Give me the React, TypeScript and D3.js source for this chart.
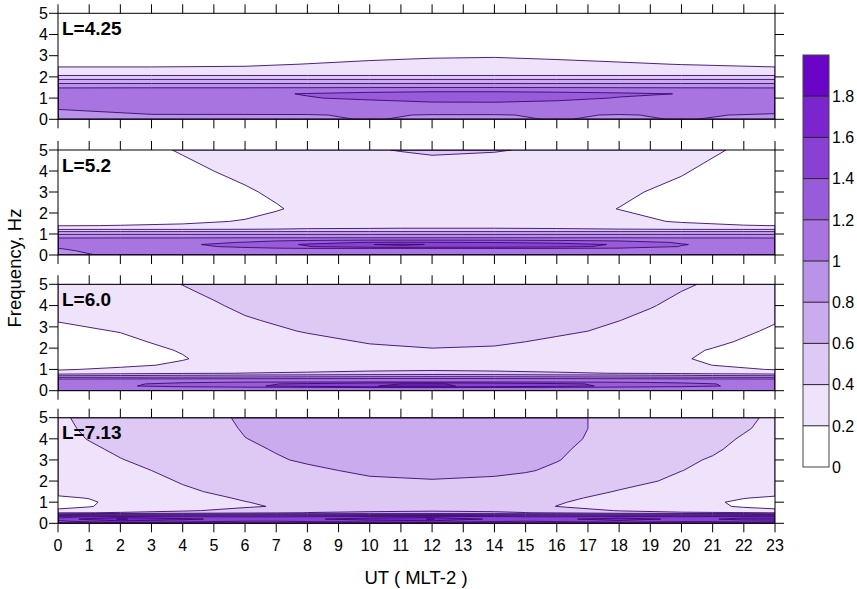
import React from "react";
import * as d3 from "d3";

// ---------- shared categories / levels ----------
const utTickLabels = ["0","1","2","3","4","5","6","7","8","9","10","11","12","13","14","15","16","17","18","19","20","21","22","23"];
const freqTickLabels = ["0","1","2","3","4","5"];
const levels = [0.2, 0.4, 0.6, 0.8, 1.0, 1.2, 1.4, 1.6, 1.8];
const colorbarStops = [0, 0.2, 0.4, 0.6, 0.8, 1.0, 1.2, 1.4, 1.6, 1.8, 2.0];
const colorbarLabels = ["0","0.2","0.4","0.6","0.8","1","1.2","1.4","1.6","1.8"];
const bandColors = ["#ffffff","#eee3fa","#ddc9f4","#caabed","#b993e7","#a875e0","#985bda","#8941d4","#7a25ce","#6a05c8"];
const panelLabels = ["L=4.25","L=5.2","L=6.0","L=7.13"];

// ---------- panel 1 : L=4.25 ----------
const ut1 = [0, 3, 6, 8, 10, 12, 14, 16, 18, 20, 23];
const freq1 = [0, 0.2, 0.4, 0.6, 0.8, 1.0, 1.2, 1.4, 1.6, 1.8, 2.0, 2.2, 2.6, 3.0, 4.0, 5.0];
const grid1 = [
  [0.90,0.95,0.96,0.97,1.01,0.97,0.97,1.01,0.97,1.01,0.95],
  [0.93,0.99,0.99,0.99,1.02,0.99,0.99,1.02,0.99,1.02,0.98],
  [0.98,1.05,1.06,1.07,1.08,1.09,1.09,1.08,1.07,1.06,1.04],
  [1.04,1.08,1.10,1.12,1.14,1.15,1.15,1.14,1.12,1.10,1.07],
  [1.07,1.10,1.13,1.15,1.16,1.195,1.198,1.17,1.15,1.13,1.09],
  [1.09,1.11,1.15,1.19,1.23,1.27,1.27,1.25,1.19,1.18,1.10],
  [1.10,1.12,1.16,1.21,1.25,1.28,1.28,1.26,1.23,1.195,1.11],
  [1.08,1.09,1.09,1.10,1.11,1.12,1.12,1.11,1.10,1.09,1.08],
  [0.88,0.88,0.88,0.88,0.88,0.88,0.88,0.88,0.88,0.88,0.88],
  [0.70,0.70,0.70,0.70,0.70,0.70,0.70,0.70,0.70,0.70,0.70],
  [0.45,0.45,0.45,0.45,0.45,0.45,0.45,0.45,0.45,0.45,0.45],
  [0.30,0.30,0.30,0.30,0.30,0.30,0.30,0.30,0.30,0.30,0.30],
  [0.152,0.152,0.167,0.205,0.23,0.25,0.26,0.24,0.22,0.195,0.152],
  [0.10,0.10,0.10,0.105,0.16,0.179,0.185,0.167,0.14,0.10,0.10],
  [0.05,0.05,0.05,0.05,0.05,0.05,0.05,0.05,0.05,0.05,0.05],
  [0.02,0.02,0.02,0.02,0.02,0.02,0.02,0.02,0.02,0.02,0.02],
];

// ---------- panel 2 : L=5.2 ----------
const ut2 = [0, 2, 4, 6, 7, 8, 10, 11, 12, 14, 16, 18, 20, 22, 23];
const freq2 = [0, 0.2, 0.3, 0.4, 0.5, 0.6, 0.7, 0.8, 0.9, 1.0, 1.1, 1.2, 1.4, 1.6, 2.2, 3.0, 4.0, 5.0];
const grid2 = [
  [0.94,1.04,1.06,1.08,1.09,1.10,1.10,1.10,1.10,1.10,1.09,1.08,1.06,1.04,1.03],
  [0.98,1.05,1.08,1.10,1.11,1.12,1.12,1.12,1.12,1.12,1.11,1.10,1.08,1.05,1.04],
  [0.995,1.07,1.10,1.14,1.16,1.17,1.15,1.14,1.15,1.16,1.16,1.14,1.10,1.07,1.05],
  [1.06,1.10,1.15,1.24,1.31,1.39,1.52,1.55,1.52,1.50,1.45,1.36,1.19,1.10,1.08],
  [1.10,1.12,1.17,1.27,1.35,1.42,1.595,1.63,1.59,1.55,1.48,1.38,1.21,1.12,1.10],
  [1.05,1.08,1.14,1.21,1.27,1.33,1.41,1.42,1.41,1.39,1.35,1.29,1.18,1.10,1.06],
  [1.02,1.04,1.08,1.13,1.17,1.19,1.22,1.22,1.22,1.21,1.19,1.16,1.10,1.05,1.02],
  [1.01,1.02,1.02,1.03,1.03,1.03,1.03,1.03,1.03,1.03,1.03,1.03,1.02,1.02,1.01],
  [0.88,0.88,0.88,0.88,0.88,0.88,0.88,0.88,0.88,0.88,0.88,0.88,0.88,0.88,0.88],
  [0.78,0.78,0.78,0.78,0.78,0.78,0.78,0.78,0.78,0.78,0.78,0.78,0.78,0.78,0.78],
  [0.63,0.63,0.63,0.63,0.63,0.63,0.63,0.63,0.63,0.63,0.63,0.63,0.63,0.63,0.63],
  [0.42,0.42,0.42,0.42,0.42,0.43,0.43,0.43,0.43,0.43,0.43,0.42,0.42,0.42,0.42],
  [0.19,0.205,0.22,0.26,0.30,0.32,0.34,0.35,0.35,0.35,0.33,0.30,0.23,0.205,0.198],
  [0.12,0.14,0.17,0.21,0.24,0.26,0.27,0.27,0.27,0.27,0.26,0.23,0.19,0.16,0.15],
  [0.05,0.07,0.10,0.15,0.19,0.23,0.26,0.26,0.26,0.26,0.24,0.198,0.14,0.09,0.07],
  [0.06,0.08,0.12,0.185,0.22,0.24,0.26,0.265,0.27,0.265,0.25,0.22,0.17,0.11,0.09],
  [0.08,0.11,0.17,0.23,0.25,0.26,0.27,0.275,0.28,0.275,0.26,0.24,0.21,0.14,0.11],
  [0.10,0.15,0.21,0.27,0.30,0.33,0.38,0.41,0.44,0.415,0.36,0.30,0.25,0.18,0.14],
];

// ---------- panel 3 : L=6.0 ----------
const ut3 = [0, 2, 4, 5, 6, 8, 10, 12, 14, 16, 18, 19, 20, 21, 23];
const freq3 = [0, 0.12, 0.22, 0.32, 0.42, 0.52, 0.62, 0.72, 0.82, 1.0, 1.2, 1.5, 1.9, 2.3, 2.8, 3.3, 4.0, 5.0];
const grid3 = [
  [1.08,1.08,1.08,1.08,1.08,1.08,1.08,1.08,1.08,1.08,1.08,1.08,1.08,1.08,1.08],
  [1.10,1.08,1.06,1.05,1.05,1.05,1.05,1.05,1.05,1.05,1.05,1.05,1.06,1.07,1.08],
  [1.12,1.17,1.28,1.32,1.37,1.46,1.595,1.63,1.55,1.46,1.36,1.31,1.26,1.21,1.13],
  [1.12,1.16,1.26,1.30,1.35,1.44,1.58,1.62,1.53,1.44,1.35,1.30,1.25,1.205,1.12],
  [1.10,1.12,1.15,1.16,1.17,1.17,1.17,1.17,1.17,1.17,1.16,1.15,1.14,1.12,1.10],
  [1.077,1.09,1.10,1.105,1.11,1.12,1.13,1.132,1.13,1.12,1.11,1.105,1.10,1.09,1.08],
  [0.82,0.83,0.84,0.845,0.85,0.86,0.865,0.868,0.865,0.86,0.85,0.845,0.84,0.83,0.82],
  [0.55,0.58,0.61,0.62,0.64,0.66,0.69,0.698,0.69,0.66,0.64,0.62,0.61,0.58,0.56],
  [0.30,0.34,0.38,0.39,0.405,0.42,0.44,0.452,0.44,0.42,0.395,0.38,0.36,0.34,0.31],
  [0.18,0.24,0.29,0.31,0.32,0.35,0.37,0.38,0.37,0.35,0.32,0.30,0.28,0.25,0.19],
  [0.11,0.16,0.23,0.26,0.28,0.31,0.33,0.34,0.33,0.31,0.28,0.26,0.23,0.199,0.12],
  [0.09,0.12,0.19,0.24,0.27,0.31,0.34,0.35,0.34,0.32,0.28,0.25,0.21,0.18,0.10],
  [0.10,0.14,0.21,0.25,0.28,0.33,0.37,0.39,0.38,0.35,0.30,0.27,0.23,0.19,0.11],
  [0.12,0.17,0.24,0.28,0.31,0.36,0.41,0.43,0.42,0.38,0.33,0.30,0.27,0.23,0.14],
  [0.17,0.205,0.28,0.32,0.35,0.41,0.44,0.45,0.44,0.42,0.38,0.34,0.30,0.26,0.18],
  [0.205,0.25,0.32,0.36,0.39,0.43,0.46,0.47,0.46,0.43,0.401,0.38,0.35,0.31,0.21],
  [0.25,0.30,0.36,0.39,0.42,0.46,0.49,0.50,0.49,0.46,0.42,0.405,0.38,0.35,0.28],
  [0.28,0.35,0.402,0.43,0.45,0.49,0.52,0.54,0.53,0.50,0.46,0.44,0.41,0.39,0.33],
];

// ---------- panel 4 : L=7.13 ----------
const ut4 = [0, 1, 2, 4, 6, 7, 8, 10, 12, 14, 15, 16, 18, 20, 21, 22, 23];
const freq4 = [0, 0.1, 0.2, 0.3, 0.4, 0.5, 0.6, 0.8, 1.0, 1.2, 1.5, 2.0, 2.5, 3.0, 3.5, 4.0, 4.5, 5.0];
const grid4 = [
  [1.15,1.20,1.25,1.25,1.20,1.20,1.20,1.25,1.25,1.20,1.20,1.20,1.25,1.20,1.20,1.25,1.20],
  [1.35,1.50,1.55,1.50,1.40,1.40,1.45,1.50,1.55,1.45,1.40,1.45,1.55,1.45,1.45,1.50,1.50],
  [1.50,1.65,1.82,1.65,1.50,1.50,1.56,1.70,1.81,1.55,1.50,1.55,1.70,1.55,1.58,1.68,1.70],
  [1.30,1.45,1.50,1.45,1.42,1.42,1.45,1.50,1.52,1.48,1.44,1.43,1.48,1.45,1.48,1.50,1.45],
  [0.85,0.90,0.95,1.02,1.02,1.03,1.04,1.05,1.06,1.05,1.04,1.03,0.99,0.95,0.92,0.90,0.86],
  [0.38,0.395,0.42,0.47,0.53,0.57,0.605,0.62,0.63,0.62,0.605,0.57,0.47,0.43,0.42,0.41,0.398],
  [0.247,0.27,0.30,0.38,0.45,0.50,0.55,0.58,0.59,0.58,0.55,0.50,0.39,0.32,0.29,0.27,0.25],
  [0.13,0.19,0.26,0.33,0.38,0.41,0.44,0.48,0.50,0.48,0.44,0.398,0.35,0.27,0.23,0.18,0.13],
  [0.12,0.18,0.25,0.33,0.395,0.43,0.46,0.50,0.52,0.50,0.46,0.41,0.35,0.26,0.22,0.17,0.12],
  [0.18,0.205,0.26,0.33,0.42,0.45,0.48,0.52,0.54,0.52,0.48,0.43,0.36,0.27,0.24,0.205,0.18],
  [0.24,0.27,0.31,0.38,0.44,0.47,0.50,0.54,0.56,0.55,0.52,0.48,0.39,0.32,0.29,0.27,0.25],
  [0.25,0.29,0.33,0.41,0.48,0.51,0.54,0.575,0.591,0.58,0.56,0.53,0.45,0.37,0.34,0.30,0.26],
  [0.28,0.32,0.36,0.44,0.51,0.54,0.57,0.63,0.645,0.625,0.61,0.58,0.50,0.402,0.37,0.33,0.29],
  [0.31,0.35,0.395,0.46,0.54,0.585,0.62,0.65,0.66,0.65,0.625,0.605,0.53,0.42,0.39,0.35,0.31],
  [0.34,0.38,0.42,0.49,0.57,0.61,0.63,0.66,0.67,0.66,0.64,0.615,0.55,0.45,0.415,0.37,0.33],
  [0.36,0.405,0.44,0.51,0.598,0.62,0.64,0.67,0.68,0.67,0.65,0.625,0.565,0.47,0.43,0.39,0.35],
  [0.37,0.42,0.45,0.52,0.61,0.63,0.65,0.68,0.69,0.68,0.66,0.63,0.57,0.49,0.46,0.41,0.37],
  [0.38,0.43,0.46,0.53,0.62,0.64,0.66,0.69,0.70,0.69,0.67,0.63,0.57,0.50,0.47,0.42,0.38],
];

const panels = [
  { ut: ut1, freq: freq1, grid: grid1 },
  { ut: ut2, freq: freq2, grid: grid2 },
  { ut: ut3, freq: freq3, grid: grid3 },
  { ut: ut4, freq: freq4, grid: grid4 },
];

// ---------- layout ----------
const W = 857, H = 589;
const plotL = 58, plotR = 775;
const panelTop = [13.3, 150, 284.3, 417.7];
const panelBottom = [119.3, 255, 390.7, 523.3];
const tickLen = 9;
const cbX = 803, cbW = 26, cbTop = 55, cbBottom = 467;
const FONT = "'Liberation Sans', Arial, Helvetica, sans-serif";
const lineColor = "#3a0a6e";

function mapIndex(arr: number[], c: number) {
  const s = c - 0.5;
  if (s <= 0) return arr[0];
  if (s >= arr.length - 1) return arr[arr.length - 1];
  const i = Math.floor(s);
  return arr[i] + (s - i) * (arr[i + 1] - arr[i]);
}

function Panel({ k }: { k: number }) {
  const { ut, freq, grid } = panels[k];
  const top = panelTop[k], bottom = panelBottom[k];
  const x = d3.scaleLinear().domain([0, 23]).range([plotL, plotR]);
  const y = d3.scaleLinear().domain([0, 5]).range([bottom, top]);
  const n = ut.length, m = freq.length;
  const values = grid.flat();
  const cs = d3.contours().size([n, m]).thresholds(levels)(values);
  const toPath = (mp: any) =>
    mp.coordinates
      .map((poly: any) =>
        poly
          .map((ring: any) =>
            "M" +
            ring
              .map(([cx, cy]: number[]) => `${x(mapIndex(ut, cx)).toFixed(2)},${y(mapIndex(freq, cy)).toFixed(2)}`)
              .join("L") +
            "Z"
          )
          .join("")
      )
      .join("");
  const paths = cs.map((c) => toPath(c));
  const clipId = `clip${k}`;
  const hours = utTickLabels.map((s) => +s);
  const freqs = freqTickLabels.map((s) => +s);
  return (
    <g>
      <defs>
        <clipPath id={clipId}>
          <rect x={plotL} y={top} width={plotR - plotL} height={bottom - top} />
        </clipPath>
      </defs>
      <g clipPath={`url(#${clipId})`}>
        <rect x={plotL} y={top} width={plotR - plotL} height={bottom - top} fill={bandColors[0]} />
        {paths.map((d, i) => (
          <path key={"f" + i} d={d} fill={bandColors[i + 1]} fillRule="evenodd" stroke="none" />
        ))}
        {paths.map((d, i) => (
          <path key={"l" + i} d={d} fill="none" stroke={lineColor} strokeWidth={0.9} strokeLinejoin="round" />
        ))}
      </g>
      <rect x={plotL} y={top} width={plotR - plotL} height={bottom - top} fill="none" stroke="#000" strokeWidth={1} />
      {hours.map((h) => (
        <g key={"t" + h}>
          <line x1={x(h)} x2={x(h)} y1={top} y2={top - tickLen} stroke="#000" strokeWidth={1} />
          <line x1={x(h)} x2={x(h)} y1={bottom} y2={bottom + tickLen} stroke="#000" strokeWidth={1} />
        </g>
      ))}
      {freqs.map((f) => (
        <g key={"y" + f}>
          <line x1={plotL} x2={plotL - tickLen} y1={y(f)} y2={y(f)} stroke="#000" strokeWidth={1} />
          <line x1={plotR} x2={plotR + tickLen} y1={y(f)} y2={y(f)} stroke="#000" strokeWidth={1} />
          <text x={plotL - tickLen - 1} y={y(f)} dy="0.36em" textAnchor="end" fontSize={16} fontFamily={FONT} fill="#000">
            {freqTickLabels[f]}
          </text>
        </g>
      ))}
      <text x={62} y={top + 21.5} fontSize={19} fontWeight="bold" fontFamily={FONT} fill="#000">
        {panelLabels[k]}
      </text>
      {k === 3 &&
        hours.map((h) => (
          <text key={"xl" + h} x={x(h)} y={bottom + 28} textAnchor="middle" fontSize={16} fontFamily={FONT} fill="#000">
            {utTickLabels[h]}
          </text>
        ))}
    </g>
  );
}

function ColorBar() {
  const s = d3.scaleLinear().domain([0, 2]).range([cbBottom, cbTop]);
  return (
    <g>
      {bandColors.map((c, i) => (
        <rect key={i} x={cbX} y={s(colorbarStops[i + 1])} width={cbW} height={s(colorbarStops[i]) - s(colorbarStops[i + 1])} fill={c} />
      ))}
      {colorbarStops.slice(1, -1).map((v, i) => (
        <line key={"l" + i} x1={cbX} x2={cbX + cbW} y1={s(v)} y2={s(v)} stroke="#222" strokeWidth={1} />
      ))}
      <rect x={cbX} y={cbTop} width={cbW} height={cbBottom - cbTop} fill="none" stroke="#444" strokeWidth={1} />
      {colorbarLabels.map((t, i) => (
        <text key={"t" + i} x={cbX + cbW + 3} y={s(colorbarStops[i])} dy="0.36em" fontSize={16} fontFamily={FONT} fill="#000">
          {t}
        </text>
      ))}
    </g>
  );
}

export default function App() {
  return (
    <svg width={W} height={H} viewBox={`0 0 ${W} ${H}`} style={{ display: "block", position: "absolute", left: 0, top: 0, background: "#fff" }}>
      <rect x={0} y={0} width={W} height={H} fill="#fff" />
      {panels.map((_, k) => (
        <Panel key={k} k={k} />
      ))}
      <ColorBar />
      <text x={416} y={584} textAnchor="middle" fontSize={18.5} fontFamily={FONT} fill="#000">
        UT ( MLT-2 )
      </text>
      <text transform="translate(21,268) rotate(-90)" textAnchor="middle" fontSize={18.5} fontFamily={FONT} fill="#000">
        Frequency, Hz
      </text>
    </svg>
  );
}
